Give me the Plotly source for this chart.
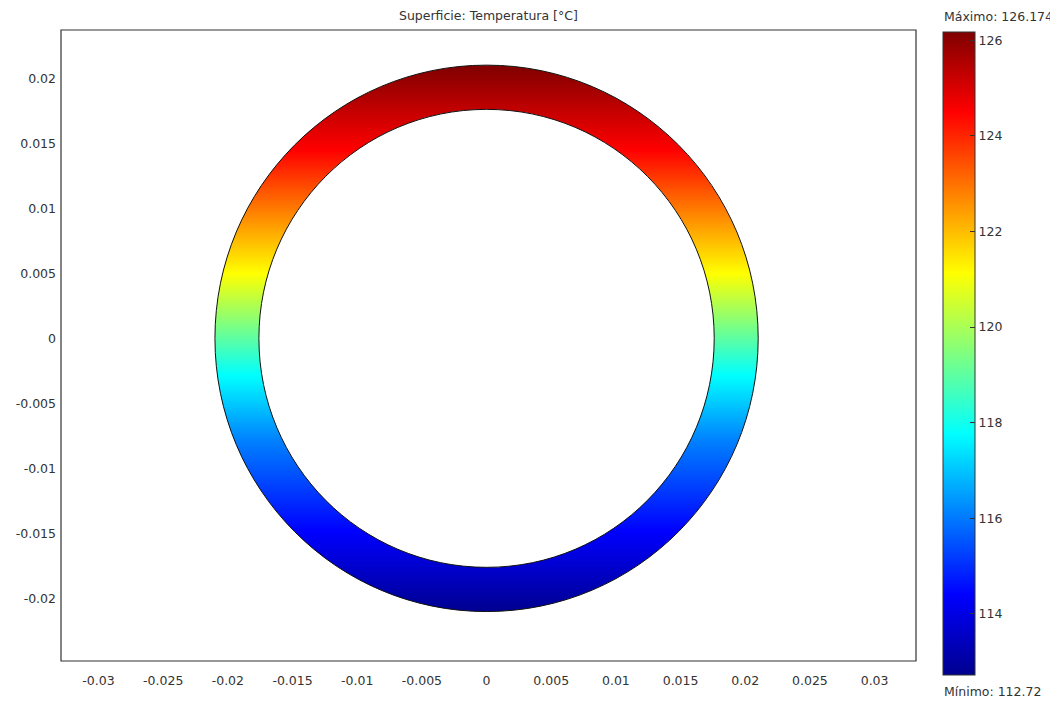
import numpy as np
import plotly.graph_objects as go

# ---- data ----
title_text = "Superficie: Temperatura [°C]"
t_min = 112.72
t_max = 126.174
# temperature profile sampled along the ring (height y [m] -> T [°C])
profile_y = [-0.021, -0.0148, -0.0078, -0.00285, 0.0011, 0.0050, 0.0098, 0.01446, 0.021]
profile_t = [112.72, 114.4, 116.1, 117.77, 119.45, 121.13, 122.81, 124.49, 126.174]
r_outer = 0.021
r_inner = 0.0176
x_ticks = [-0.03, -0.025, -0.02, -0.015, -0.01, -0.005, 0, 0.005, 0.01, 0.015, 0.02, 0.025, 0.03]
y_ticks = [-0.02, -0.015, -0.01, -0.005, 0, 0.005, 0.01, 0.015, 0.02]
cbar_ticks = [114, 116, 118, 120, 122, 124, 126]
x_range = [-0.0329, 0.0332]
y_range = [-0.0248, 0.0237]

FONT = "DejaVu Sans"
FS = 12.5

# page has an 8px body margin: figure is drawn 8px in from the window's top-left
OFF = 8
PL, PR, PT, PB = 61, 916, 30, 661          # plot area in window pixels
PW, PH = PR - PL, PB - PT

jet = [
    [0.0, "rgb(0,0,143)"],
    [0.125, "rgb(0,0,255)"],
    [0.375, "rgb(0,255,255)"],
    [0.625, "rgb(255,255,0)"],
    [0.875, "rgb(255,0,0)"],
    [1.0, "rgb(128,0,0)"],
]


def circle_path(r):
    k = 0.5522847498 * r
    return (f"M {r},0 C {r},{k} {k},{r} 0,{r} "
            f"C {-k},{r} {-r},{k} {-r},0 "
            f"C {-r},{-k} {-k},{-r} 0,{-r} "
            f"C {k},{-r} {r},{-k} {r},0 Z")


def circle_path_ccw(r):
    k = 0.5522847498 * r
    return (f"M {r},0 C {r},{-k} {k},{-r} 0,{-r} "
            f"C {-k},{-r} {-r},{-k} {-r},0 "
            f"C {-r},{k} {-k},{r} 0,{r} "
            f"C {k},{r} {r},{k} {r},0 Z")


def px_x(px):
    return (px - PL) / PW


def px_y(py):
    return (PB - py) / PH


fig = go.Figure()
fig.add_trace(go.Heatmap(
    x=[x_range[0] - 0.001, x_range[1] + 0.001],
    y=profile_y,
    z=[[t, t] for t in profile_t],
    zsmooth="best",
    colorscale=jet,
    zmin=t_min,
    zmax=t_max,
    hoverinfo="skip",
    colorbar=dict(
        thickness=32,
        thicknessmode="pixels",
        len=643 / PH,
        lenmode="fraction",
        x=px_x(943),
        xanchor="left",
        xpad=0,
        y=px_y(32),
        yanchor="top",
        ypad=0,
        outlinewidth=1,
        outlinecolor="#333333",
        tickvals=cbar_ticks,
        ticktext=[str(v) for v in cbar_ticks],
        ticks="inside",
        ticklen=5,
        tickcolor="#333333",
        tickfont=dict(family=FONT, size=FS, color="#333333"),
    ),
))

big = 0.2
rect = f"M {-big},{-big} L {big},{-big} L {big},{big} L {-big},{big} Z "
shapes = [
    # white mask outside the outer circle
    dict(type="path", xref="x", yref="y", path=rect + circle_path_ccw(r_outer),
         fillcolor="white", line=dict(width=0), layer="above", fillrule="evenodd"),
    # hollow interior
    dict(type="path", xref="x", yref="y", path=circle_path(r_inner),
         fillcolor="white", line=dict(color="#111111", width=1), layer="above"),
    # outer edge
    dict(type="path", xref="x", yref="y", path=circle_path(r_outer),
         fillcolor="rgba(0,0,0,0)", line=dict(color="#111111", width=1), layer="above"),
    # plot frame
    dict(type="rect", xref="paper", yref="paper", x0=0, y0=0, x1=1, y1=1,
         line=dict(color="#333333", width=1.2), fillcolor="rgba(0,0,0,0)", layer="above"),
]

W, H = 1058 - OFF, 708 - OFF
fig.update_layout(
    width=W,
    height=H,
    margin=dict(l=PL - OFF, r=W - (PR - OFF), t=PT - OFF, b=H - (PB - OFF), autoexpand=False),
    paper_bgcolor="white",
    plot_bgcolor="white",
    font=dict(family=FONT, size=FS, color="#333333"),
    xaxis=dict(range=x_range, showgrid=False, zeroline=False, showline=False,
               tickvals=x_ticks, ticktext=[f"{v:g}" for v in x_ticks],
               ticks="", ticklabelstandoff=10, automargin=False),
    yaxis=dict(range=y_range, showgrid=False, zeroline=False, showline=False,
               tickvals=y_ticks, ticktext=[f"{v:g}" for v in y_ticks],
               ticks="", ticklabelstandoff=4, automargin=False),
    shapes=shapes,
    annotations=[
        dict(text=title_text, xref="paper", yref="paper",
             x=px_x(488), xanchor="center", y=px_y(15), yanchor="middle",
             showarrow=False, font=dict(family=FONT, size=FS, color="#333333")),
        dict(text=f"Máximo: {t_max:g}", xref="paper", yref="paper",
             x=px_x(942), xanchor="left", y=px_y(17), yanchor="middle",
             showarrow=False, font=dict(family=FONT, size=FS, color="#333333")),
        dict(text=f"Mínimo: {t_min:g}", xref="paper", yref="paper",
             x=px_x(942), xanchor="left", y=px_y(691), yanchor="middle",
             showarrow=False, font=dict(family=FONT, size=FS, color="#333333")),
    ],
)

fig.write_html("out.html")
